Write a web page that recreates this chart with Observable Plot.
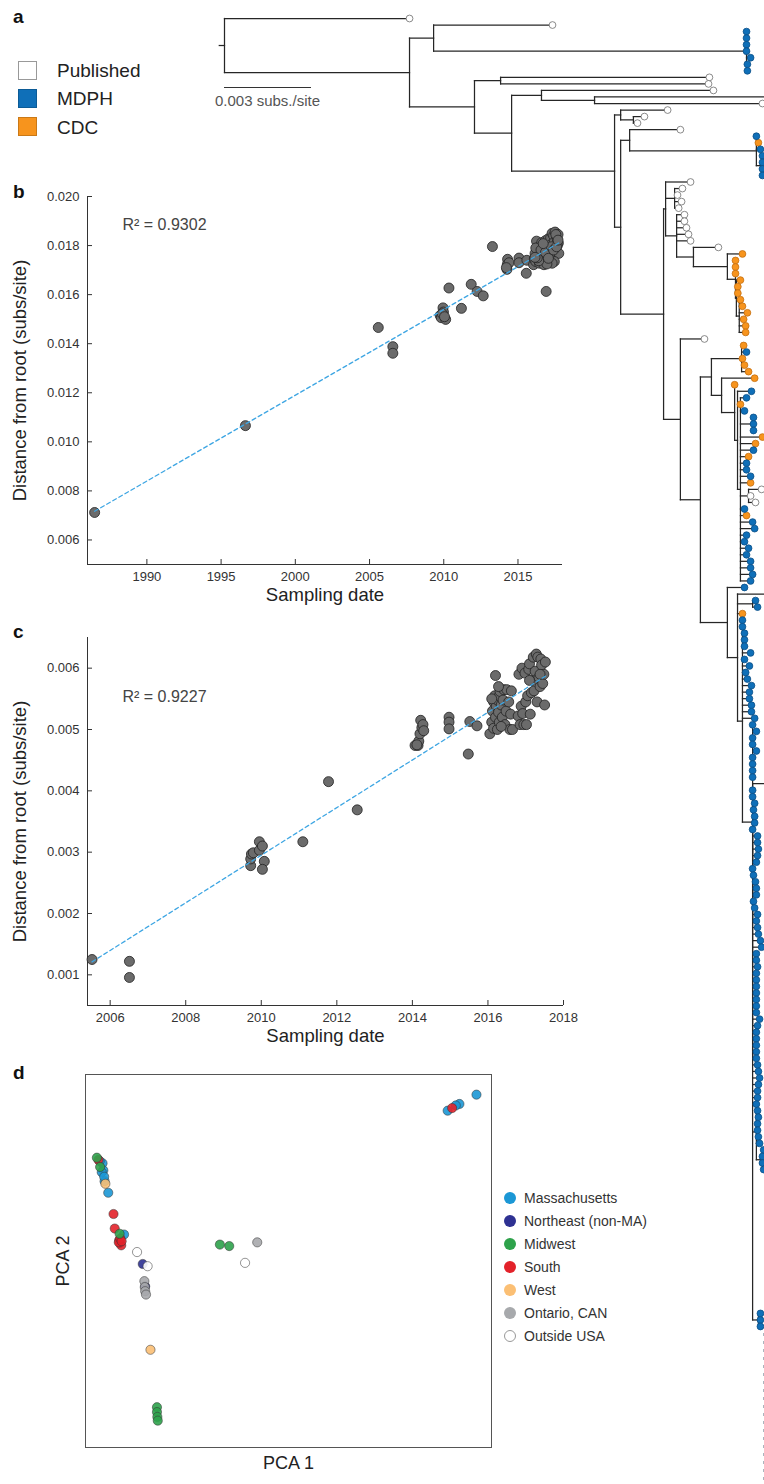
<!DOCTYPE html>
<html><head><meta charset="utf-8">
<script src="https://cdn.jsdelivr.net/npm/d3@7"></script>
<script src="https://cdn.jsdelivr.net/npm/@observablehq/plot@0.6"></script>
<style>
body{margin:0;background:#fff;}
#fig{position:relative;width:764px;height:1484px;overflow:hidden;font-family:"Liberation Sans",Arial,Helvetica,sans-serif;color:#222;background:#fff;}
#fig svg{position:absolute;}
.t{position:absolute;line-height:1;white-space:nowrap;}
</style></head><body><div id="fig"></div>
<script>
// ---------------- DATA ----------------
// Panel a: phylogeny. Newick-like clades; value after ":" = distance from root (1e-4 subs/site).
// P = published, M = MDPH, C = CDC, X = tip beyond the figure edge, _n = n empty rows, ~n = n faint rows
const cladeTop = "(P:113.1,(M:180,M:180,M:180,M:180,M:181.4,M:180.3,M:180.3):180):72.1";
const cladeEarly = "(P:167.2,P:166.9):95.2";
const cladeEarly2 = "(P:168.6,(X:195,P:185.5):127.6):109.3";
const cladeN1a = "(P:152.8,(P:144.8,P:142.4):141):136.6";
const cladeN2a = "(P:157.2,(M:183.4,C:184.1,M:184.8,(M:185.5,M:185.5,M:185.5,M:185.5):185.5):183.4):139.7";
const cladeW = "(P:160.7,(P:157.9,P:156.2,P:157.6,P:156.6):155.2,(P:158.6,P:158.6,P:159.3,P:160,P:160.7,(P:170.3,(C:178.6,(C:176.2,C:176.2,C:176.2,(C:177.9,C:177,C:177,(C:177.9,C:178.6,C:180.3,C:179,C:179.7,C:179.7):177.5):176.5):176.2):173.4):161.7):155.9):152.1";
const cladeN6 = "((C:179,M:180,C:178.6,C:179.3,C:180.7):178.3,(C:182.8,(C:175.9,(M:181.7,(M:180,C:177.9,M:179.3,(M:182.4,M:182.4,M:182.4):182.1,C:185.5,C:183.1,M:182.4,C:180.7,M:180,M:180,M:181.4,C:181.4,(P:185.2,P:181.4,P:183.1):180.7,M:179.3,C:180,M:182.1,M:182.8,M:180,M:179.3,M:180.7,M:180,M:181.4,M:181.4,M:182.1,M:181.4):177.9):176.9):175.9):171.4):167.9";
const cladeB = "M:182.1,M:182.1,M:182.8,M:182.4,M:182.8,M:182.8,M:182.1,M:183.8,M:183.8,M:184.1,M:183.8,M:183.4,M:182.1,M:182.4,M:183.1,M:183.4,M:183.4,M:182.4,M:182.8,M:183.8,M:183.4,M:183.8,M:184.1,M:184.8,M:185.2,M:183.4,M:183.4,M:183.8,M:183.4,M:183.4,M:183.4,M:183.4,M:183.4,M:183.4,M:183.4,M:184.5,M:183.8,M:183.4,M:183.4,M:183.4,M:183.4,M:183.4,M:183.8,M:184.1,M:184.5,M:184.1,M:183.8,M:183.8";
const cladeQ = "(M:183.4,M:183.8,M:184.1,M:183.8,M:183.8,M:184.1,M:184.5,(M:185.9,M:185.5,M:185.5,M:185.9):185.5):183.4";
const cladeBottom = "_21,(M:184.8,M:184.8,M:184.8):184.1,(~25):185.9";
const cladeK4 = `(${cladeB},${cladeQ},${cladeBottom}):182.1`;
const cladeA = `(M:178.6,M:178.6,M:179.3,M:179.3,M:179.3,M:181.4,M:179.3,M:181,M:179.7,M:180.3,M:181.7,M:181,M:181,M:181.7,M:181.7,M:182.8,(M:182.1,M:183.4,M:182.1,M:182.1,M:183.4,M:182.1,M:182.1,M:182.1,M:182.1,(X:195,${cladeK4}):182.1):182.1):178.6`;
const rootStem = 1.8;           // 1e-4 subs/site
const scaleBarSubs = 0.003;     // subs/site
const sourceNames = ["Published", "MDPH", "CDC"];
const sourceColors = ["#ffffff", "#0f6fb8", "#f7941d"];

// Panel b
const bR2 = "R\u00b2 = 0.9302";
const bXTicks = [1990, 1995, 2000, 2005, 2010, 2015];
const bYTicks = [0.006, 0.008, 0.010, 0.012, 0.014, 0.016, 0.018, 0.020];
const bXDomain = [1986, 2018];
const bYDomain = [0.005, 0.020];
const bDate = [1986.48,1996.64,2005.59,2006.57,2006.57,2009.76,2009.95,2009.98,2009.83,2010.13,2009.9,2010.05,2010.35,2011.19,2011.85,2012.25,2012.66,2013.28,2014.26,2014.3,2014.28,2014.4,2014.22,2015.07,2015.07,2015.56,2015.6,2016.9,
 2016.05,2016.1,2016.15,2016.2,2016.25,2016.3,2016.35,2016.4,2016.45,2016.5,2016.55,2016.6,2016.65,2016.7,2016.75,2016.8,2016.85,2016.9,2016.95,2017.0,2017.05,2017.1,2017.15,2017.2,2017.25,2017.3,2017.35,2017.4,2017.45,2017.5,2017.55,2017.6,2017.65,2017.7,2017.75,
 2017.72,2017.45,2017.3,2016.95,2016.6,2016.4,2017.1,2017.55,2017.65,2016.2,
 2016.3,2016.55,2016.85,2017.05,2017.25,2017.4,2017.6,2017.7,2016.15,2016.7];
const bDist = [0.00712,0.01066,0.01466,0.01388,0.01361,0.01515,0.01546,0.01529,0.01506,0.01499,0.01522,0.0151,0.01627,0.01544,0.01642,0.01613,0.01595,0.01796,0.01703,0.01744,0.01723,0.0173,0.0171,0.01749,0.0173,0.01687,0.0174,0.01613,
 0.01722,0.01745,0.01768,0.01735,0.01818,0.0179,0.0176,0.01778,0.01728,0.01745,0.018,0.01812,0.01735,0.0177,0.01722,0.01795,0.0182,0.01755,0.0174,0.0181,0.01828,0.01785,0.0174,0.01832,0.01805,0.0185,0.0176,0.0184,0.01815,0.01855,0.0178,0.01836,0.01825,0.01845,0.01768,
 0.0181,0.01735,0.01728,0.01725,0.0176,0.01738,0.0176,0.01845,0.018,0.0179,
 0.0175,0.01782,0.01772,0.01748,0.01795,0.01782,0.01795,0.01822,0.01752,0.01808];

// Panel c
const cR2 = "R\u00b2 = 0.9227";
const cXTicks = [2006, 2008, 2010, 2012, 2014, 2016, 2018];
const cYTicks = [0.001, 0.002, 0.003, 0.004, 0.005, 0.006];
const cXDomain = [2005.4, 2018];
const cYDomain = [0.0005, 0.0065];
const cDate = [2005.52,2006.51,2006.51,2009.72,2009.72,2009.74,2009.79,2009.95,2009.95,2010.03,2010.08,2010.03,2011.1,2011.78,2012.54,2014.07,2014.15,2014.17,2014.2,2014.25,2014.22,2014.28,2014.3,2014.12,2014.97,2014.97,2014.97,2015.48,2015.52,2015.71,
 2016.05,2016.1,2016.12,2016.15,2016.15,2016.18,2016.2,2016.2,2016.22,2016.25,2016.25,2016.28,2016.3,2016.3,2016.32,2016.35,2016.38,2016.4,2016.42,2016.45,2016.48,2016.5,2016.55,2016.58,2016.6,2016.62,2016.65,2016.35,2016.28,2016.1,
 2016.8,2016.82,2016.85,2016.88,2016.9,2016.92,2016.95,2016.98,2017.0,2017.02,2017.05,2017.08,2017.1,2017.12,2017.15,2017.18,2017.2,2017.22,2017.25,2017.28,2017.3,2017.32,2017.35,2017.38,2017.4,2017.42,2017.45,2017.48,2017.5,2017.52,2017.38,2017.1];
const cDist = [0.00125,0.00122,0.000957,0.00278,0.00289,0.00297,0.00299,0.00303,0.00317,0.0031,0.00285,0.00272,0.00317,0.00415,0.00369,0.00474,0.00474,0.00481,0.00493,0.00503,0.00515,0.00508,0.00498,0.00475,0.0052,0.00512,0.00501,0.0046,0.00513,0.00506,
 0.00493,0.00512,0.0053,0.00545,0.00502,0.00555,0.00588,0.0052,0.00538,0.00548,0.005,0.00528,0.00555,0.00512,0.00562,0.0054,0.0052,0.00548,0.00565,0.00508,0.0053,0.00565,0.00545,0.005,0.00525,0.00563,0.005,0.00505,0.0057,0.0055,
 0.00522,0.0059,0.00508,0.00538,0.006,0.00526,0.00508,0.00592,0.00545,0.00508,0.00555,0.00598,0.00607,0.00525,0.0056,0.0058,0.00618,0.00563,0.00595,0.00623,0.00545,0.00618,0.00585,0.0057,0.00615,0.00605,0.00575,0.0059,0.0054,0.0061,0.0059,0.0058];

// Panel d
const regions = ["Massachusetts", "Northeast (non-MA)", "Midwest", "South", "West", "Ontario, CAN", "Outside USA"];
const regionColors = ["#1b97d5", "#2e3192", "#2ea24b", "#e3222a", "#fbbf74", "#a7a9ac", "#ffffff"];
const pcaRegion = ["Massachusetts","Massachusetts","Massachusetts","Massachusetts","Massachusetts","Massachusetts","Massachusetts","Massachusetts","Massachusetts","Massachusetts","Massachusetts","Massachusetts",
 "South","South","South","South","South","South","South","South","South","South",
 "Midwest","Midwest","Midwest","Midwest","Midwest","Midwest","Midwest","Midwest","Midwest",
 "West","West","Northeast (non-MA)","Northeast (non-MA)",
 "Ontario, CAN","Ontario, CAN","Ontario, CAN","Ontario, CAN","Ontario, CAN",
 "Outside USA","Outside USA","Outside USA"];
const pca1 = [96.3,92.1,91.2,89.2,4.2,4.4,4.0,4.7,5.6,9.5,3.5,4.6,
 90.3,3.2,6.9,7.2,8.3,8.5,8.8,8.2,8.6,8.9,
 2.8,3.6,8.4,33.1,35.4,17.6,17.6,17.7,17.8,
 4.9,16.0,14.1,14.7,
 14.5,14.6,14.7,14.9,42.3,
 12.7,15.3,39.3];
const pca2 = [94.6,92.1,91.7,90.3,76.2,74.3,73.8,71.4,68.3,57.1,76.8,72.6,
 91.0,77.1,62.6,58.7,55.6,54.8,54.2,55.0,56.0,55.3,
 77.7,75.2,57.3,54.4,54.0,10.8,9.5,8.2,7.2,
 70.7,26.2,49.2,43.2,
 44.6,43.0,41.9,41.0,55.0,
 52.4,48.6,49.5];

// ---------------- HELPERS ----------------
const FONT = '"Liberation Sans", Arial, Helvetica, sans-serif';
const fig = document.getElementById("fig");
function textAt(str, x, baseline, size, css = "") {
  const d = document.createElement("div");
  d.className = "t";
  d.textContent = str;
  d.style.cssText += `left:${x}px;top:${baseline - 0.847 * size}px;font-size:${size}px;` + css;
  fig.appendChild(d);
  return d;
}
function box(x, y, w, h, css) {
  const d = document.createElement("div");
  d.style.cssText = `position:absolute;left:${x}px;top:${y}px;width:${w}px;height:${h}px;box-sizing:border-box;` + css;
  fig.appendChild(d);
  return d;
}
function placeSvg(svg, x, y) { svg.style.left = x + "px"; svg.style.top = y + "px"; fig.appendChild(svg); return svg; }

// ---------------- TREE ----------------
const treeSrc = `(P:63.8,(${cladeTop},(${cladeEarly},(${cladeEarly2},(${cladeN1a},(${cladeN2a},(${cladeW},(P:165.5,(${cladeN6},(M:179.3,(X:195,(M:183.1,M:183.8):182.1,C:178.6,${cladeA}):176.9):173.4):164.1):157.2):151.4):136.6):134.5):99):86.2):63.8):0`;

function parseTree(src) {
  const s = src.replace(/\s+/g, "");
  let i = 0;
  function depth() {
    if (s[i] !== ":") return null;
    const m = /^:(-?\d+(?:\.\d+)?)/.exec(s.slice(i));
    i += m[0].length;
    return +m[1];
  }
  function node() {
    if (s[i] === "(") {
      i++;
      const children = [];
      for (;;) {
        children.push(...node());
        if (s[i] === ",") { i++; continue; }
        break;
      }
      i++;
      return [{children, depth: depth()}];
    }
    const m = /^([A-Za-z_~])(\d*)/.exec(s.slice(i));
    i += m[0].length;
    const n = m[2] ? +m[2] : 1;
    const d = depth();
    return Array.from({length: n}, () => ({type: m[1], depth: d}));
  }
  return node()[0];
}
const root = parseTree(treeSrc);
let slot = 0;
function layout(n, parent) {
  n.parent = parent;
  if (!n.children) {
    n.y = slot++;
    n.hidden = n.type === "_";
    n.ghost = n.type === "~";
    return;
  }
  n.children.forEach(c => layout(c, n));
  const vis = n.children.filter(c => !c.hidden && !c.ghost);
  n.ghost = !vis.length && n.children.some(c => c.ghost);
  n.hidden = !vis.length && !n.ghost;
  const span = vis.length ? vis : n.children;
  n.y0 = span[0].y; n.y1 = span[span.length - 1].y; n.y = (n.y0 + n.y1) / 2;
}
layout(root, null);
const nSlots = slot;
const branches = [], ghosts = [], tips = [];
function collect(n) {
  if (n.children) {
    (n.ghost ? ghosts : branches).push({x1: n.depth, x2: n.depth, y1: n.y0, y2: n.y1});
    n.children.forEach(collect);
  } else if (!n.hidden && !n.ghost) tips.push(n);
  if (n.parent && !n.hidden && !n.ghost) branches.push({x1: n.parent.depth, x2: n.depth, y1: n.y, y2: n.y});
}
collect(root);
branches.push({x1: -rootStem, x2: 0, y1: root.y, y2: root.y});

const tipStyle = {
  P: {fill: "#ffffff", stroke: "#6d6d6d"},
  X: {fill: "#ffffff", stroke: "#6d6d6d"},
  M: {fill: "#0f6fb8", stroke: "#0b4f86"},
  C: {fill: "#f7941d", stroke: "#c46f10"}
};
const ROW = 6.54;
const tree = Plot.plot({
  width: 764, height: 1484, margin: 0,
  style: {background: "transparent"},
  x: {domain: [0, 186.2], range: [224, 764], axis: null},
  y: {domain: [0, nSlots - 1], range: [18, 18 + (nSlots - 1) * ROW], axis: null},
  marks: [
    Plot.link(branches, {x1: "x1", x2: "x2", y1: "y1", y2: "y2", stroke: "#262626", strokeWidth: 1.25, strokeLinecap: "square", clip: true}),
    Plot.link(ghosts, {x1: "x1", x2: "x2", y1: "y1", y2: "y2", stroke: "#a9b3bd", strokeWidth: 1.2, strokeDasharray: "3,5", clip: true}),
    ...["P", "X", "C", "M"].map(t => Plot.dot(tips.filter(d => d.type === t), {x: "depth", y: "y", r: 3.4, fill: tipStyle[t].fill, stroke: tipStyle[t].stroke, strokeWidth: 0.8, clip: true}))
  ]
});
placeSvg(tree, 0, 0);

// scale bar
const sx = tree.scale("x");
const barX0 = sx.apply(0), barLen = sx.apply(scaleBarSubs * 1e4) - barX0;
box(barX0, 87, barLen, 1.3, "background:#333;");
textAt("0.003 subs./site", barX0 + barLen / 2, 106, 15, "color:#555;transform:translateX(-50%);");

// legend a
sourceNames.forEach((name, i) => {
  box(18, 61 + i * 28, 19, 19, `background:${sourceColors[i]};border:1px solid ${i === 0 ? "#999" : "rgba(0,0,0,0.18)"};`);
  textAt(name, 57, 77 + i * 28.5, 19, "color:#222;");
});

// ---------------- ROOT-TO-TIP PANELS ----------------
function rttPanel({data, xDomain, yDomain, xTicks, yTicks, r2, r2dy, top, height, mt, mb, right}) {
  const W = 600, ml = 87, mr = W - right;
  const innerH = height - mt - mb, innerW = W - ml - mr;
  const svg = Plot.plot({
    width: W, height, marginLeft: ml, marginRight: mr, marginTop: mt, marginBottom: mb,
    style: {background: "transparent", fontFamily: FONT, fontSize: "13px", color: "#333"},
    x: {domain: xDomain},
    y: {domain: yDomain},
    marks: [
      Plot.ruleX([xDomain[0]], {stroke: "#333", strokeWidth: 1}),
      Plot.ruleY([yDomain[0]], {stroke: "#333", strokeWidth: 1}),
      Plot.tickY(yTicks, {y: d => d, insetRight: innerW - 5, stroke: "#333"}),
      Plot.tickX(xTicks, {x: d => d, insetTop: innerH - 5, stroke: "#333"}),
      Plot.axisX({ticks: xTicks, tickSize: 0, tickPadding: 7, tickFormat: "d", label: null}),
      Plot.axisY({ticks: yTicks, tickSize: 0, tickPadding: 8, tickFormat: ".3f", label: null}),
      Plot.dot(data, {x: "date", y: "dist", r: 5, fill: "#6b6b6b", stroke: "#222", strokeWidth: 0.8}),
      Plot.linearRegressionY(data, {x: "date", y: "dist", ci: 0, stroke: "#3ea6e3", strokeWidth: 1.3, strokeDasharray: "4,3"}),
      Plot.text([r2], {frameAnchor: "top-left", dx: 35, dy: r2dy, text: d => d, textAnchor: "start", fontSize: 16, fill: "#444"}),
      Plot.text(["Distance from root (subs/site)"], {frameAnchor: "left", rotate: -90, dx: -67, text: d => d, textAnchor: "middle", fontSize: 18.5, fill: "#222"}),
      Plot.text(["Sampling date"], {frameAnchor: "bottom", dy: 36, text: d => d, textAnchor: "middle", fontSize: 18.5, fill: "#222"})
    ]
  });
  return placeSvg(svg, 0, top);
}
const bData = bDate.map((d, i) => ({date: d, dist: bDist[i]}));
const cData = cDate.map((d, i) => ({date: d, dist: cDist[i]}));
rttPanel({data: bData, xDomain: bXDomain, yDomain: bYDomain, xTicks: bXTicks, yTicks: bYTicks, r2: bR2, r2dy: 22, top: 180, height: 432, mt: 16, mb: 48, right: 562});
rttPanel({data: cData, xDomain: cXDomain, yDomain: cYDomain, xTicks: cXTicks, yTicks: cYTicks, r2: cR2, r2dy: 53, top: 625, height: 425, mt: 12, mb: 45, right: 563});

// ---------------- PCA PANEL ----------------
const pcaData = pcaRegion.map((r, i) => ({region: r, pc1: pca1[i], pc2: pca2[i]}));
const dSvg = Plot.plot({
  width: 500, height: 424, marginLeft: 85, marginRight: 9, marginTop: 14, marginBottom: 37,
  style: {background: "transparent", fontFamily: FONT},
  x: {domain: [0, 100], axis: null},
  y: {domain: [0, 100], axis: null},
  color: {domain: regions, range: regionColors},
  marks: [
    Plot.frame({stroke: "#555", strokeWidth: 1}),
    Plot.dot(pcaData, {x: "pc1", y: "pc2", fill: "region", r: 4.6, stroke: "#333", strokeOpacity: 0.75, strokeWidth: 0.7, fillOpacity: 0.9}),
    Plot.text(["PCA 1"], {frameAnchor: "bottom", dy: 21, text: d => d, textAnchor: "middle", fontSize: 18, fill: "#222"}),
    Plot.text(["PCA 2"], {frameAnchor: "left", rotate: -90, dx: -22, text: d => d, textAnchor: "middle", fontSize: 18, fill: "#222"})
  ]
});
placeSvg(dSvg, 0, 1060);

// legend d
regions.forEach((name, i) => {
  const cy = 1198 + i * 23;
  box(504, cy - 6, 12, 12, `border-radius:50%;background:${regionColors[i]};` + (i === regions.length - 1 ? "border:1.3px solid #999;" : ""));
  textAt(name, 524, cy + 5, 14, "color:#333;");
});

// panel letters
[["a", 23], ["b", 198], ["c", 638], ["d", 1079]].forEach(([l, y]) => textAt(l, 13, y, 19, "font-weight:bold;color:#111;"));
</script></body></html>
